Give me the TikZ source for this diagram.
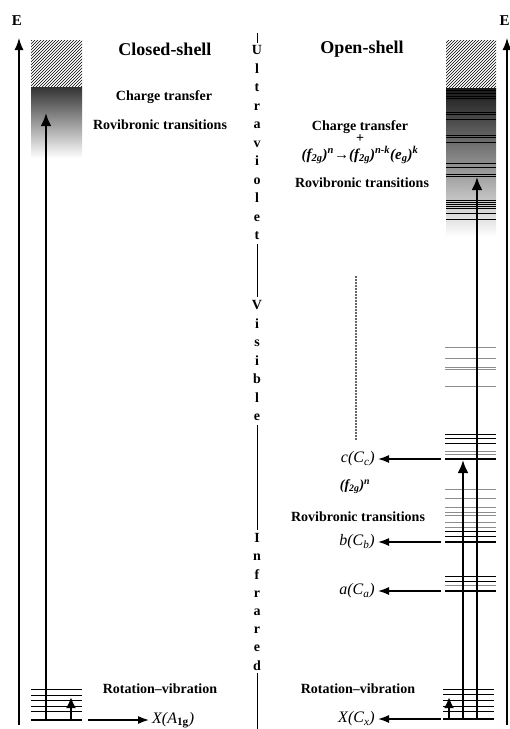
\documentclass[tikz,border=0pt]{standalone}
\usepackage{fontspec}
\setmainfont{Liberation Serif}
\usetikzlibrary{patterns,arrows.meta}

\tikzset{
  enlevel/.style={line width=0.9pt},
  greylevel/.style={line width=0.9pt, black!45},
  gndlevel/.style={line width=2.2pt},
  axisarrow/.style={line width=1.3pt, -{Latex[length=12pt,width=9pt]}},
  bigarrow/.style={line width=2.7pt, -{Latex[length=13pt,width=11pt]}},
  smallarrow/.style={line width=2.5pt, -{Latex[length=11pt,width=10pt]}},
  lblarrow/.style={line width=1.5pt, -{Latex[length=11pt,width=8pt]}},
  bandtext/.style={font=\bfseries\fontsize{14}{16}\selectfont, inner sep=0pt},
  headtext/.style={font=\bfseries\fontsize{18}{20}\selectfont, inner sep=0pt},
  statelbl/.style={font=\itshape\fontsize{16}{18}\selectfont, inner sep=3pt},
  regionltr/.style={font=\bfseries\fontsize{14}{16}\selectfont, inner sep=0pt,
    text height=9.5pt, text depth=0pt},
  axislbl/.style={font=\bfseries\fontsize{15}{16}\selectfont, inner sep=0pt},
}

\begin{document}
\begin{tikzpicture}[x=1pt, y=-1pt]
  \useasboundingbox (0,0) rectangle (510,729);

  % energy axes
  \node[axislbl] (eleft) at (17,21) {E};
  \node[axislbl] (eright) at (504.5,21) {E};
  \coordinate (laxb) at (19,725);
  \coordinate (laxt) at (19,38);
  \coordinate (raxb) at (507,725);
  \coordinate (raxt) at (507,38);
  \draw[axisarrow] (laxb) -- (laxt);
  \draw[axisarrow] (raxb) -- (raxt);

  % closed-shell levels
  \fill[pattern=north east lines] (31,40) rectangle (82,87);
  \shade[top color=black!80, bottom color=white] (31,87) rectangle (82,158);
  \foreach \y in {689,695,700,706,711}
    \draw[enlevel] (31,\y) -- (82,\y);
  \draw[gndlevel] (31,720) -- (82,720);
  \coordinate (lgnd) at (46,720);
  \coordinate (lct) at (46,113);
  \draw[bigarrow] (lgnd) -- (lct);
  \coordinate (lrvb) at (71,720);
  \coordinate (lrvt) at (71,697);
  \draw[smallarrow] (lrvb) -- (lrvt);

  \node[headtext] (closed) at (165,49) {Closed-shell};
  \node[bandtext] (lcharge) at (164,97) {Charge transfer};
  \node[bandtext] (lrovib) at (160,125) {Rovibronic transitions};
  \node[bandtext] (lrotvib) at (160,689) {Rotation--vibration};

  \coordinate (lxst) at (88,720);
  \node[statelbl, anchor=west] (xa) at (149,720)
    {\textit{X}(\textit{A}\textsubscript{\upshape\bfseries 1g})};
  \draw[lblarrow] (lxst) -- (xa.west);

  % spectral regions
  \foreach \ch [count=\i from 0] in {U,l,t,r,a,v,i,o,l,e,t}
    \node[regionltr] (uv\i) at (257,{50+18.5*\i}) {\ch};
  \foreach \ch [count=\i from 0] in {V,i,s,i,b,l,e}
    \node[regionltr] (vis\i) at (257,{305+18.5*\i}) {\ch};
  \foreach \ch [count=\i from 0] in {I,n,f,r,a,r,e,d}
    \node[regionltr] (ir\i) at (257,{538+18.2*\i}) {\ch};
  \draw[line width=0.7pt] (257,33) -- (257,43);
  \draw[line width=0.7pt] (257,244) -- (257,297);
  \draw[line width=0.7pt] (257,425) -- (257,530);
  \draw[line width=0.7pt] (257,673) -- (257,729);

  % open-shell levels
  \fill[pattern=north east lines] (446,40) rectangle (496,88);
  \shade[top color=black!90, bottom color=white] (446,88) rectangle (496,237);
  \foreach \y in {90,93,96,98,112,114,119,135,137,142,163,167,174,176,
                  200,202,204,206,208,213,219}
    \draw[line width=0.8pt] (446,\y) -- (496,\y);
  \foreach \y in {347,358,367,369,386,451,454,489,498,507,512,515,522,527,585}
    \draw[greylevel] (445,\y) -- (496,\y);
  \foreach \y in {434,438,443,531,536,576,581}
    \draw[enlevel] (445,\y) -- (496,\y);
  \foreach \y in {459,542,591}
    \draw[gndlevel] (445,\y) -- (496,\y);
  \foreach \y in {689,694,700,706,711}
    \draw[enlevel] (443,\y) -- (494,\y);
  \draw[gndlevel] (443,719) -- (494,719);

  \coordinate (rgnd1) at (463,719);
  \coordinate (rct1) at (463,460);
  \draw[bigarrow] (rgnd1) -- (rct1);
  \coordinate (rgnd2) at (477,719);
  \coordinate (rct2) at (477,177);
  \draw[bigarrow] (rgnd2) -- (rct2);
  \coordinate (rrvb) at (449,719);
  \coordinate (rrvt) at (449,697);
  \draw[smallarrow] (rrvb) -- (rrvt);

  \node[headtext] (open) at (362,49) {Open-shell};
  \node[bandtext] (rcharge) at (360,127) {Charge transfer};
  \node[bandtext] (rplus) at (360,139) {+};
  \node[font=\bfseries\itshape\fontsize{15}{16}\selectfont, inner sep=0pt] (rexcit) at (360,155)
    {(f\textsubscript{2g})\textsuperscript{n}→(f\textsubscript{2g})\textsuperscript{n-k}(e\textsubscript{g})\textsuperscript{k}};
  \node[bandtext] (rrovib) at (362,183) {Rovibronic transitions};
  \draw[line width=1.2pt, black!60, dash pattern=on 1.5pt off 1.5pt] (356,276) -- (356,440);
  \node[font=\bfseries\itshape\fontsize{14}{15}\selectfont, inner sep=0pt] (rconf) at (355,487)
    {(f\textsubscript{2g})\textsuperscript{n}};
  \node[bandtext] (rrovib2) at (358,517) {Rovibronic transitions};
  \node[bandtext] (rrotvib) at (358,689) {Rotation--vibration};

  % open-shell state labels
  \coordinate (cst) at (441,459);
  \coordinate (bst) at (441,542);
  \coordinate (ast) at (441,591);
  \coordinate (xst) at (441,719);
  \node[statelbl, anchor=east] (clbl) at (378,459) {\textit{c}(\textit{C\textsubscript{c}})};
  \node[statelbl, anchor=east] (blbl) at (378,542) {\textit{b}(\textit{C\textsubscript{b}})};
  \node[statelbl, anchor=east] (albl) at (378,591) {\textit{a}(\textit{C\textsubscript{a}})};
  \node[statelbl, anchor=east] (xlbl) at (378,719) {\textit{X}(\textit{C\textsubscript{x}})};
  \draw[lblarrow] (cst) -- (clbl.east);
  \draw[lblarrow] (bst) -- (blbl.east);
  \draw[lblarrow] (ast) -- (albl.east);
  \draw[lblarrow] (xst) -- (xlbl.east);
\end{tikzpicture}
\end{document}
